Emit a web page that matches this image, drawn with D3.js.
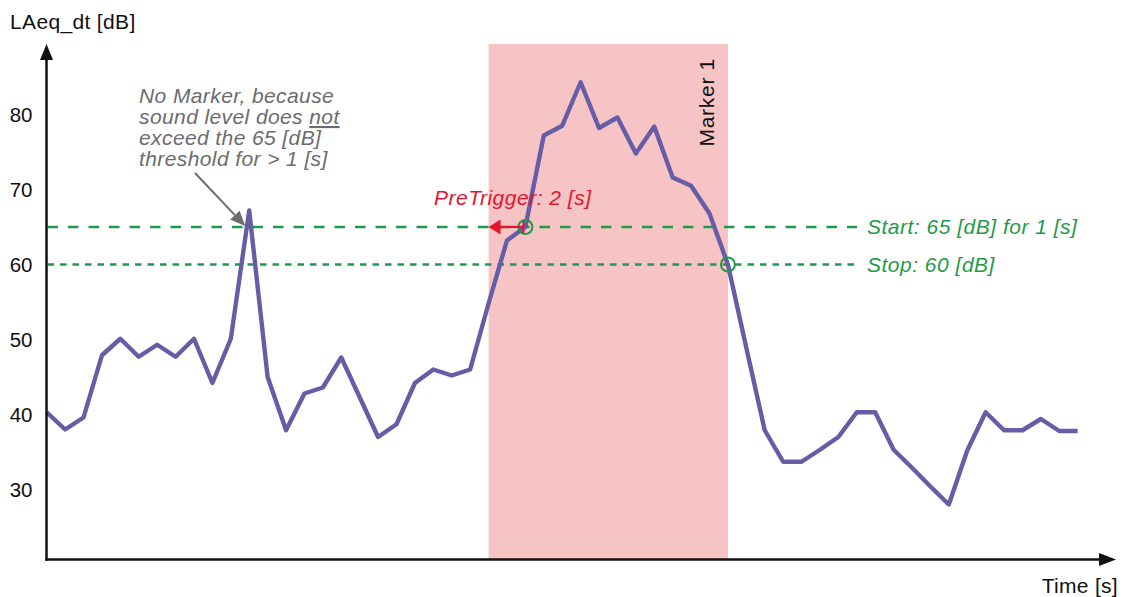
<!DOCTYPE html>
<html>
<head>
<meta charset="utf-8">
<script src="https://cdn.jsdelivr.net/npm/d3@7"></script>
<style>
  html, body { margin: 0; padding: 0; background: #fff; }
  svg { display: block; font-family: "Liberation Sans", Arial, sans-serif; }
</style>
</head>
<body>
<svg id="chart" width="1129" height="597"></svg>
<script>
// Sound level LAeq_dt [dB], one reading per second
const levels = [
  40.3, 38.0, 39.6, 47.9, 50.1, 47.7, 49.3, 47.7, 50.1, 44.2,
  50.1, 67.2, 45.0, 37.9, 42.8, 43.6, 47.6, 42.3, 37.0, 38.7,
  44.2, 46.0, 45.2, 46.0, 54.8, 63.2, 65.0, 77.2, 78.5, 84.3,
  78.2, 79.6, 74.8, 78.4, 71.6, 70.5, 66.8, 60.0, 48.9, 37.9,
  33.7, 33.7, 35.3, 37.0, 40.3, 40.3, 35.3, 32.9, 30.4, 28.0,
  35.2, 40.3, 37.9, 37.9, 39.4, 37.8, 37.8
];
const yTicks = [30, 40, 50, 60, 70, 80];

// Trigger settings
const startLevel = 65;      // dB
const stopLevel = 60;       // dB
const preTrigger = 2;       // s
const startTime = 26;       // s, first second above the start level
const stopTime = 37;        // s, drop below the stop level
const markerName = "Marker 1";

const svg = d3.select("#chart");

const x = d3.scaleLinear().domain([0, levels.length - 1]).range([46.7, 1077.7]);
const y = d3.scaleLinear().domain([30, 80]).range([489.5, 114.5]);

const axisX = 46.5, axisY = 559.5, topY = 44, rightX = 1116;

const purple = "#675da6", pink = "#f6c4c4", green = "#1e9a4a", red = "#e2162f", grey = "#6b6b70";

// Marker span (pre-trigger start .. stop)
svg.append("rect")
  .attr("x", x(startTime - preTrigger)).attr("y", topY)
  .attr("width", x(stopTime) - x(startTime - preTrigger))
  .attr("height", axisY - topY)
  .attr("fill", pink);

svg.append("text")
  .attr("transform", `translate(${x(stopTime) - 14},58) rotate(-90)`)
  .attr("text-anchor", "end")
  .attr("font-size", 21).attr("letter-spacing", 0.7)
  .attr("fill", "#111")
  .text(markerName);

// Threshold lines
svg.append("line")
  .attr("x1", axisX + 1).attr("x2", 857)
  .attr("y1", y(startLevel)).attr("y2", y(startLevel))
  .attr("stroke", green).attr("stroke-width", 2.5)
  .attr("stroke-dasharray", "10.5,10");
svg.append("line")
  .attr("x1", axisX + 1).attr("x2", 857)
  .attr("y1", y(stopLevel)).attr("y2", y(stopLevel))
  .attr("stroke", green).attr("stroke-width", 2.5)
  .attr("stroke-dasharray", "6.5,6");

svg.append("text")
  .attr("x", 867).attr("y", y(startLevel) + 7)
  .attr("font-size", 21).attr("font-style", "italic")
  .attr("letter-spacing", 0.5)
  .attr("fill", green)
  .text(`Start: ${startLevel} [dB] for 1 [s]`);
svg.append("text")
  .attr("x", 867).attr("y", y(stopLevel) + 7)
  .attr("font-size", 21).attr("font-style", "italic")
  .attr("letter-spacing", 0.5)
  .attr("fill", green)
  .text(`Stop: ${stopLevel} [dB]`);

// Sound level line
const line = d3.line().x((d, i) => x(i)).y(d => y(d));
svg.append("path")
  .datum(levels)
  .attr("d", line)
  .attr("fill", "none")
  .attr("stroke", purple)
  .attr("stroke-width", 4.4)
  .attr("stroke-linejoin", "round")
  .attr("stroke-linecap", "butt");

// Trigger points
[[startTime, startLevel], [stopTime, stopLevel]].forEach(([t, v]) => {
  svg.append("circle")
    .attr("cx", x(t)).attr("cy", y(v)).attr("r", 7)
    .attr("fill", "none").attr("stroke", green).attr("stroke-width", 2);
});

// Pre-trigger arrow
const preY = y(startLevel);
const preX0 = x(startTime) - 2, preX1 = x(startTime - preTrigger);
svg.append("line")
  .attr("x1", preX0).attr("x2", preX1 + 10)
  .attr("y1", preY).attr("y2", preY)
  .attr("stroke", red).attr("stroke-width", 2.2);
svg.append("line")
  .attr("x1", preX0).attr("x2", preX0)
  .attr("y1", preY - 6).attr("y2", preY + 6)
  .attr("stroke", red).attr("stroke-width", 2);
svg.append("path")
  .attr("d", `M${preX1},${preY} L${preX1 + 12},${preY - 7.5} L${preX1 + 12},${preY + 7.5} Z`)
  .attr("fill", red);
svg.append("text")
  .attr("x", 434).attr("y", 205)
  .attr("font-size", 21).attr("font-style", "italic")
  .attr("letter-spacing", 0.5)
  .attr("fill", red)
  .text(`PreTrigger: ${preTrigger} [s]`);

// Note on the short peak
const note = svg.append("text")
  .attr("font-size", 21).attr("font-style", "italic")
  .attr("letter-spacing", 0.4)
  .attr("fill", grey);
note.append("tspan").attr("x", 139).attr("y", 103).text("No Marker, because");
const l2 = note.append("tspan").attr("x", 139).attr("y", 124);
l2.append("tspan").text("sound level does ");
l2.append("tspan").attr("text-decoration", "underline").text("not");
note.append("tspan").attr("x", 139).attr("y", 145).text(`exceed the ${startLevel} [dB]`);
note.append("tspan").attr("x", 139).attr("y", 166).text("threshold for > 1 [s]");

const peakI = 11;
const tipX = x(peakI) - 4, tipY = y(startLevel) - 1;
const fromX = 195, fromY = 173;
const ang = Math.atan2(tipY - fromY, tipX - fromX);
const hl = 15, hw = 6.5;
const bx = tipX - hl * Math.cos(ang), by = tipY - hl * Math.sin(ang);
svg.append("line")
  .attr("x1", fromX).attr("y1", fromY).attr("x2", bx).attr("y2", by)
  .attr("stroke", grey).attr("stroke-width", 2);
svg.append("path")
  .attr("d", `M${tipX},${tipY} L${bx + hw * Math.sin(ang)},${by - hw * Math.cos(ang)} L${bx - hw * Math.sin(ang)},${by + hw * Math.cos(ang)} Z`)
  .attr("fill", grey);

// Axes
const yAxis = d3.axisLeft(y).tickValues(yTicks).tickSize(0).tickPadding(14);
const gy = svg.append("g").attr("transform", `translate(${axisX},0)`).call(yAxis);
gy.select(".domain").remove();
gy.selectAll("text").attr("font-size", 20.5).attr("fill", "#111")
  .attr("font-family", "'Liberation Sans', Arial, sans-serif");

svg.append("line")
  .attr("x1", axisX).attr("x2", axisX).attr("y1", axisY + 1.2).attr("y2", topY + 12)
  .attr("stroke", "#111").attr("stroke-width", 2.5);
svg.append("path")
  .attr("d", `M${axisX},${topY} L${axisX - 6.5},${topY + 16} L${axisX + 6.5},${topY + 16} Z`)
  .attr("fill", "#111");
svg.append("line")
  .attr("x1", axisX - 1.2).attr("x2", rightX - 12).attr("y1", axisY).attr("y2", axisY)
  .attr("stroke", "#111").attr("stroke-width", 2.5);
svg.append("path")
  .attr("d", `M${rightX},${axisY} L${rightX - 17},${axisY - 6.5} L${rightX - 17},${axisY + 6.5} Z`)
  .attr("fill", "#111");

svg.append("text")
  .attr("x", 10).attr("y", 29)
  .attr("font-size", 21).attr("letter-spacing", 0.35).attr("fill", "#111")
  .text("LAeq_dt [dB]");
svg.append("text")
  .attr("x", 1118).attr("y", 593)
  .attr("text-anchor", "end")
  .attr("font-size", 21).attr("letter-spacing", 0.3).attr("fill", "#111")
  .text("Time [s]");
</script>
</body>
</html>
